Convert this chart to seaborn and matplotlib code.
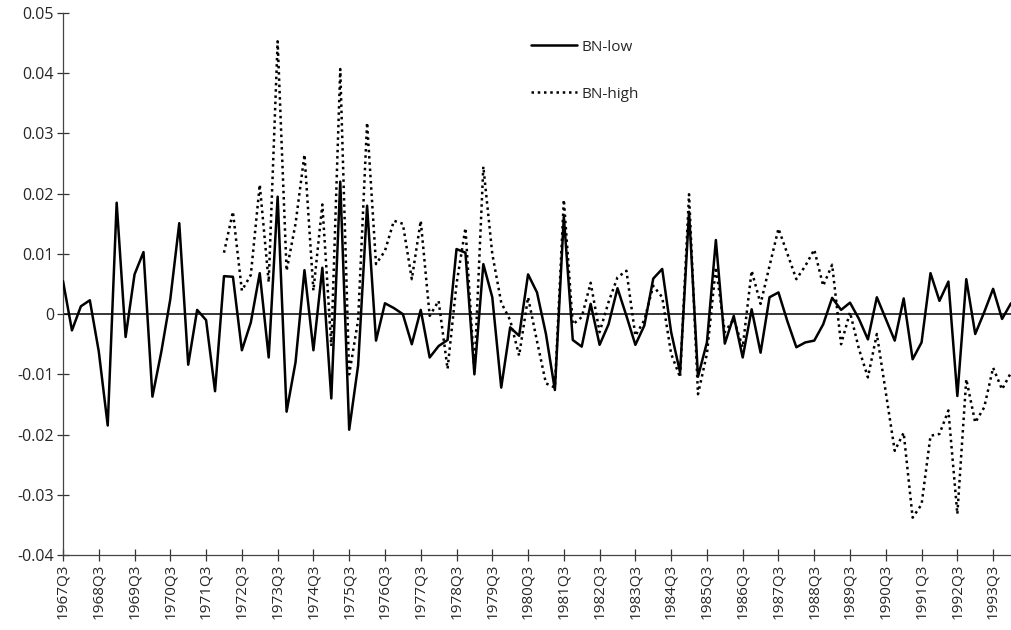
import numpy as np
import pandas as pd
import matplotlib
matplotlib.use("Agg")
import matplotlib.pyplot as plt
import seaborn as sns

# Quarters 1967Q3 .. 1994Q1
quarters = [f"{y}Q{q}" for y in range(1967, 1995) for q in range(1, 5)]
quarters = quarters[quarters.index("1967Q3"):quarters.index("1994Q1") + 1]

tick_labels = ["1967Q3", "1968Q3", "1969Q3", "1970Q3", "1971Q3", "1972Q3", "1973Q3",
               "1974Q3", "1975Q3", "1976Q3", "1977Q3", "1978Q3", "1979Q3", "1980Q3",
               "1981Q3", "1982Q3", "1983Q3", "1984Q3", "1985Q3", "1986Q3", "1987Q3",
               "1988Q3", "1989Q3", "1990Q3", "1991Q3", "1992Q3", "1993Q3"]

bn_low = [
    0.0055, -0.0027, 0.0013, 0.0023, -0.0062, -0.0185, 0.0185, -0.0038, 0.0066, 0.0103,
    -0.0137, -0.0062, 0.0025, 0.0151, -0.0084, 0.0007, -0.0010, -0.0128, 0.0063, 0.0062,
    -0.0060, -0.0014, 0.0068, -0.0072, 0.0195, -0.0162, -0.0080, 0.0073, -0.0060, 0.0077,
    -0.0140, 0.0220, -0.0192, -0.0085, 0.0180, -0.0044, 0.0018, 0.0010, 0.0000, -0.0050,
    0.0007, -0.0072, -0.0053, -0.0043, 0.0108, 0.0102, -0.0100, 0.0083, 0.0028, -0.0122,
    -0.0022, -0.0036, 0.0066, 0.0036, -0.0033, -0.0126, 0.0162, -0.0043, -0.0054, 0.0017,
    -0.0051, -0.0017, 0.0043, -0.0003, -0.0051, -0.0019, 0.0059, 0.0075, -0.0030, -0.0097,
    0.0170, -0.0104, -0.0047, 0.0123, -0.0049, -0.0003, -0.0072, 0.0008, -0.0064, 0.0028,
    0.0036, -0.0012, -0.0055, -0.0047, -0.0044, -0.0017, 0.0027, 0.0007, 0.0019, -0.0008,
    -0.0042, 0.0028, -0.0008, -0.0044, 0.0026, -0.0075, -0.0047, 0.0068, 0.0022, 0.0054,
    -0.0136, 0.0058, -0.0033, 0.0003, 0.0042, -0.0008, 0.0018,
]

# BN-high starts in 1972Q1
bn_high = [np.nan] * 18 + [
    0.0102, 0.0170, 0.0039, 0.0065, 0.0215, 0.0053, 0.0453, 0.0072, 0.0150, 0.0265,
    0.0039, 0.0182, -0.0053, 0.0407, -0.0100, -0.0010, 0.0318, 0.0083, 0.0105, 0.0155,
    0.0150, 0.0058, 0.0155, -0.0003, 0.0022, -0.0091, 0.0050, 0.0143, -0.0095, 0.0245,
    0.0100, 0.0019, -0.0010, -0.0069, 0.0028, -0.0045, -0.0115, -0.0122, 0.0190, -0.0017,
    -0.0005, 0.0052, -0.0030, 0.0020, 0.0061, 0.0072, -0.0036, -0.0010, 0.0047, 0.0028,
    -0.0066, -0.0105, 0.0199, -0.0133, -0.0066, 0.0078, -0.0030, -0.0008, -0.0055, 0.0072,
    0.0017, 0.0080, 0.0142, 0.0100, 0.0058, 0.0080, 0.0107, 0.0047, 0.0082, -0.0050,
    0.0003, -0.0058, -0.0105, -0.0033, -0.0130, -0.0227, -0.0197, -0.0338, -0.0316, -0.0202,
    -0.0199, -0.0160, -0.0332, -0.0108, -0.0180, -0.0155, -0.0089, -0.0125, -0.0097,
]

df = pd.DataFrame({"idx": np.arange(len(quarters)), "quarter": quarters,
                   "BN-low": bn_low, "BN-high": bn_high})

sns.set_style("white")
plt.rcParams["font.family"] = ["Open Sans", "DejaVu Sans"]

fig = plt.figure(figsize=(10.11, 6.30), dpi=100)
ax = fig.add_axes([63 / 1011, 75 / 630, 948 / 1011, 542 / 630])

ax.axhline(0, color="black", lw=1.1, zorder=1)

sns.lineplot(data=df, x="idx", y="BN-low", ax=ax, color="black", lw=1.8,
             label="BN-low", zorder=3)
sns.lineplot(data=df.dropna(subset=["BN-high"]), x="idx", y="BN-high", ax=ax,
             color="black", lw=1.8, label="BN-high", zorder=2)
ax.lines[-1].set_dashes((1, 1.5))

ax.set_xlim(0, len(quarters) - 1)
ax.set_ylim(-0.04, 0.05)
ax.set_xlabel("")
ax.set_ylabel("")

tick_pos = [quarters.index(t) for t in tick_labels]
ax.set_xticks(tick_pos)
ax.set_xticklabels(tick_labels, rotation=90, fontsize=11)
yt = np.round(np.arange(-0.04, 0.0501, 0.01), 2)
ax.set_yticks(yt)
ax.set_yticklabels(["0" if abs(v) < 1e-9 else f"{v:.2f}" for v in yt], fontsize=11.5)

ax.tick_params(axis="both", direction="inout", length=9, width=0.9, color="#333333",
               pad=2, left=True, bottom=True)
for side in ["top", "right"]:
    ax.spines[side].set_visible(False)
for side in ["left", "bottom"]:
    ax.spines[side].set_color("#444444")
    ax.spines[side].set_linewidth(0.9)

leg = ax.legend(loc="upper left", bbox_to_anchor=(517 / 1011, 1 - 26 / 630),
                bbox_transform=fig.transFigure, frameon=False, fontsize=11,
                handlelength=3.0, labelspacing=2.1, handletextpad=0.3)

fig.savefig("out.png", dpi=100)
